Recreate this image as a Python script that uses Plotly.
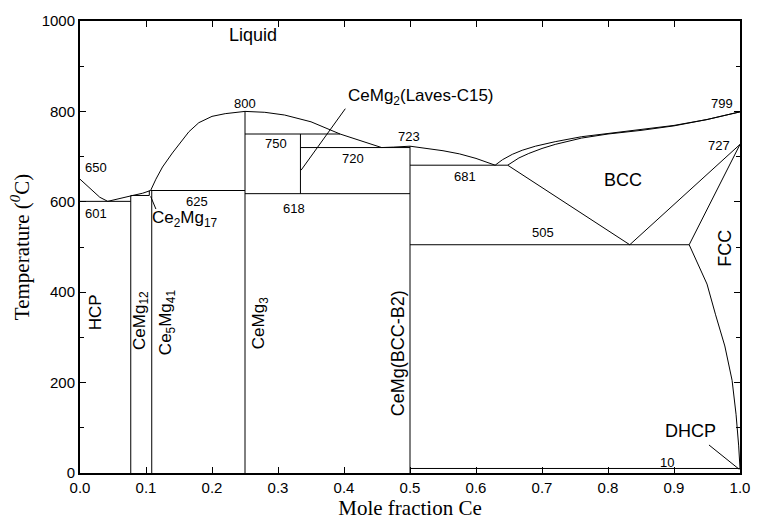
import plotly.graph_objects as go

# ---- Ce-Mg phase boundaries (x = mole fraction Ce, T in degC) ----
# Liquidus, Mg-rich side
liq_mg_x = [0.0, 0.01, 0.02, 0.03, 0.042]
liq_mg_t = [650, 636, 622, 610, 601]
# Liquidus from eutectic over CeMg12 / Ce2Mg17 to CeMg3 maximum
liq_a_x = [0.042, 0.06, 0.077, 0.095, 0.107, 0.115, 0.125, 0.14, 0.15, 0.165, 0.18, 0.20, 0.22, 0.235, 0.25]
liq_a_t = [601, 608, 613, 619, 625, 650, 677, 708, 727, 755, 775, 789, 795, 798, 800]
# Liquidus from CeMg3 down to the CeMg2/CeMg eutectic, then CeMg maximum
liq_b_x = [0.25, 0.28, 0.31, 0.35, 0.394, 0.43, 0.457, 0.475, 0.49, 0.5]
liq_b_t = [800, 798, 792, 777, 750, 732, 720, 721, 723, 723]
# Liquidus from CeMg down to the CeMg/BCC eutectic
liq_c_x = [0.5, 0.53, 0.55, 0.575, 0.60, 0.629]
liq_c_t = [723, 718, 713, 706, 696, 681]
# Liquidus and solidus on the Ce-rich side (BCC)
liq_d_x = [0.629, 0.64, 0.655, 0.67, 0.69, 0.72, 0.76, 0.80, 0.85, 0.90, 0.95, 1.0]
liq_d_t = [681, 693, 705, 714, 723, 733, 744, 751, 759, 769, 782, 799]
sol_d_x = [0.648, 0.655, 0.665, 0.68, 0.70, 0.72, 0.76, 0.80, 0.85, 0.90, 0.95, 1.0]
sol_d_t = [681, 688, 697, 707, 718, 727, 741, 750, 758, 768, 782, 799]
# BCC lower boundary to the eutectoid, and BCC / FCC boundaries
bcc_low_x = [0.648, 0.70, 0.76, 0.833]
bcc_low_t = [681, 632, 575, 505]
bcc_right_x = [0.833, 1.0]
bcc_right_t = [505, 727]
fcc_left_x = [0.923, 1.0]
fcc_left_t = [505, 727]
# FCC solvus down to the DHCP transition
fcc_solv_x = [0.923, 0.935, 0.95, 0.963, 0.977, 0.988, 0.994, 0.998, 1.0]
fcc_solv_t = [505, 468, 418, 350, 281, 205, 130, 60, 10]

# Invariant reactions: (x_start, x_end, T)
inv_x0 = [0.0, 0.077, 0.107, 0.25, 0.25, 0.334, 0.5, 0.5, 0.5]
inv_x1 = [0.077, 0.105, 0.25, 0.394, 0.5, 0.5, 0.648, 0.923, 1.0]
inv_t = [601, 614, 625, 750, 618, 720, 681, 505, 10]

# Line compounds: (x, T_bottom, T_top)
cmp_x = [0.0769, 0.105, 0.1087, 0.25, 0.334, 0.5]
cmp_t0 = [0, 614, 0, 0, 618, 0]
cmp_t1 = [614, 625, 625, 800, 750, 723]

# Reaction temperature labels
num_text = ["650", "601", "625", "800", "750", "720", "723", "618", "681", "505", "799", "727", "10"]
num_x = [0.024, 0.024, 0.178, 0.25, 0.297, 0.413, 0.498, 0.324, 0.584, 0.702, 0.972, 0.968, 0.89]
num_t = [675, 574, 601, 817, 729, 696, 744, 585, 655, 533, 817, 724, 24]

fig = go.Figure()
line_style = dict(color="black", width=1)

def add_curve(xs, ts):
    fig.add_trace(go.Scatter(x=xs, y=ts, mode="lines", line=line_style,
                             hoverinfo="skip", showlegend=False))

for xs, ts in [(liq_mg_x, liq_mg_t), (liq_a_x, liq_a_t), (liq_b_x, liq_b_t),
               (liq_c_x, liq_c_t), (liq_d_x, liq_d_t), (sol_d_x, sol_d_t),
               (bcc_low_x, bcc_low_t), (bcc_right_x, bcc_right_t),
               (fcc_left_x, fcc_left_t), (fcc_solv_x, fcc_solv_t)]:
    add_curve(xs, ts)

for a, b, t in zip(inv_x0, inv_x1, inv_t):
    add_curve([a, b], [t, t])

for x, t0, t1 in zip(cmp_x, cmp_t0, cmp_t1):
    add_curve([x, x], [t0, t1])

# leader lines for labels
add_curve([0.107, 0.115], [612, 584])
add_curve([0.402, 0.335], [806, 670])
add_curve([0.953, 0.999], [62, 8])

sans = "Arial, Liberation Sans, sans-serif"
annotations = []
for s, x, t in zip(num_text, num_x, num_t):
    annotations.append(dict(x=x, y=t, text=s, showarrow=False,
                            font=dict(family=sans, size=13, color="black")))

phase_labels = [
    ("Liquid", 0.262, 968, 0, 18),
    ("BCC", 0.823, 648, 0, 18),
    ("DHCP", 0.925, 94, 0, 18),
    ("Ce<sub>2</sub>Mg<sub>17</sub>", 0.159, 562, 0, 17),
    ("CeMg<sub>2</sub>(Laves-C15)", 0.517, 832, 0, 17),
    ("HCP", 0.023, 356, -90, 17),
    ("CeMg<sub>12</sub>", 0.092, 338, -90, 17),
    ("Ce<sub>5</sub>Mg<sub>41</sub>", 0.132, 334, -90, 17),
    ("CeMg<sub>3</sub>", 0.274, 331, -90, 17),
    ("CeMg(BCC-B2)", 0.481, 266, -90, 18),
    ("FCC", 0.978, 497, -90, 18),
]
for s, x, t, ang, sz in phase_labels:
    annotations.append(dict(x=x, y=t, text=s, showarrow=False, textangle=ang,
                            font=dict(family=sans, size=sz, color="black")))

serif = "Times New Roman, Liberation Serif, serif"
fig.update_layout(
    width=762, height=527,
    margin=dict(l=80, r=14, t=17, b=46),
    paper_bgcolor="white", plot_bgcolor="white",
    annotations=annotations,
    xaxis=dict(range=[0, 1.0], dtick=0.1, tick0=0, tickformat=".1f",
               ticks="inside", ticklen=6, tickwidth=1, tickcolor="black",
               showline=True, linewidth=2, linecolor="black", mirror="ticks",
               showgrid=False, zeroline=False,
               tickfont=dict(family=sans, size=15, color="black"),
               title=dict(text="Mole fraction Ce", standoff=4,
                          font=dict(family=serif, size=21, color="black"))),
    yaxis=dict(range=[0, 1000], dtick=200, tick0=0,
               ticks="inside", ticklen=6, tickwidth=1, tickcolor="black",
               showline=True, linewidth=2, linecolor="black", mirror="ticks",
               showgrid=False, zeroline=False,
               minor=dict(dtick=100, ticks="inside", ticklen=4, tickcolor="black"),
               tickfont=dict(family=sans, size=15, color="black"),
               title=dict(text="Temperature (<sup><i>0</i></sup>C)", standoff=6,
                          font=dict(family=serif, size=21, color="black"))),
)

fig.write_html("out.html")
